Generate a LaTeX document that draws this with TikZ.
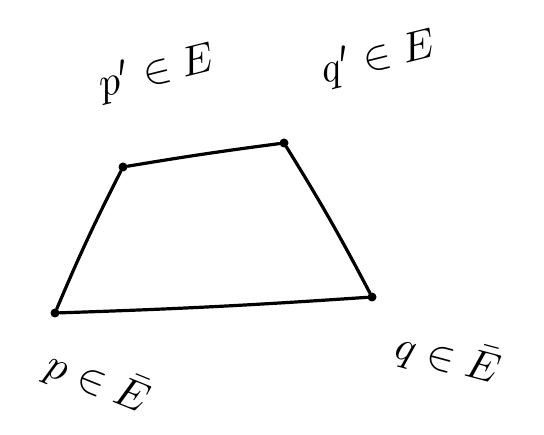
\documentclass[tikz,border=0pt]{standalone}
\usepackage{amsmath}
\begin{document}
\begin{tikzpicture}[x=1pt,y=-1pt,
  dot/.style={circle,fill=black,inner sep=0pt,minimum size=9pt},
  edge/.style={line width=3.2pt,line cap=round},
  lab/.style={scale=4.2,inner sep=0pt}]
\useasboundingbox (0,0) rectangle (544,435);
\node[dot] (p) at (55,313) {};
\node[dot] (pp) at (123,167) {};
\node[dot] (qq) at (284,143) {};
\node[dot] (q) at (372,297) {};
\draw[edge] (p) to[bend left=2] (pp);
\draw[edge] (pp) to[bend left=1] (qq);
\draw[edge] (qq) to[bend left=2] (q);
\draw[edge] (q) to[bend left=1] (p);
\node[lab,rotate=14] (lpp) at (157,72) {$p'\in E$};
\node[lab,rotate=14] (lqq) at (378,58) {$q'\in E$};
\node[lab,rotate=-22] (lp) at (98,382) {$p\in \bar{E}$};
\node[lab,rotate=-15] (lq) at (448,358) {$q\in \bar{E}$};
\end{tikzpicture}
\end{document}
